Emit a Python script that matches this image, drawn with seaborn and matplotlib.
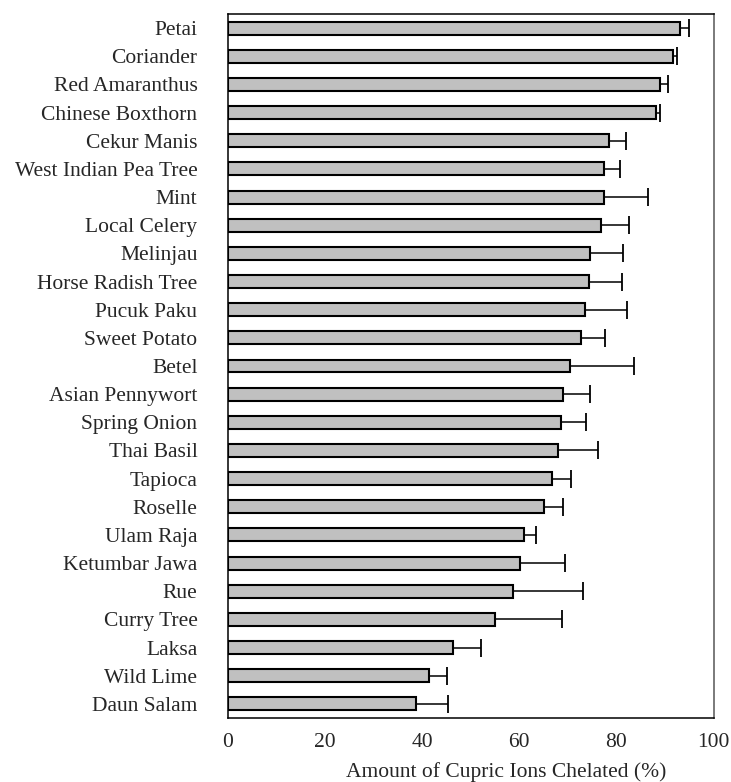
import numpy as np
import pandas as pd
import matplotlib
matplotlib.use("Agg")
import matplotlib.pyplot as plt
import seaborn as sns

plants = ["Petai", "Coriander", "Red Amaranthus", "Chinese Boxthorn", "Cekur Manis",
          "West Indian Pea Tree", "Mint", "Local Celery", "Melinjau", "Horse Radish Tree",
          "Pucuk Paku", "Sweet Potato", "Betel", "Asian Pennywort", "Spring Onion",
          "Thai Basil", "Tapioca", "Roselle", "Ulam Raja", "Ketumbar Jawa", "Rue",
          "Curry Tree", "Laksa", "Wild Lime", "Daun Salam"]
chelated = [93.2, 91.7, 89.0, 88.1, 78.5, 77.4, 77.4, 76.8, 74.6, 74.3,
            73.6, 72.7, 70.4, 68.9, 68.6, 68.0, 66.7, 65.0, 60.9, 60.2,
            58.8, 55.0, 46.4, 41.3, 38.8]
error = [1.8, 0.7, 1.6, 0.8, 3.5, 3.3, 9.1, 5.7, 6.8, 6.8,
         8.6, 5.0, 13.3, 5.7, 5.2, 8.3, 4.0, 4.0, 2.6, 9.3,
         14.3, 13.8, 5.7, 3.9, 6.6]

df = pd.DataFrame({"Plant": plants, "Chelated": chelated, "Err": error})

sns.set_style("white")
plt.rcParams["font.family"] = ["Liberation Serif", "DejaVu Serif"]
fs = 15.5

fig = plt.figure(figsize=(7.31, 7.82), dpi=100)
ax = fig.add_axes([228 / 731, 1 - 718 / 782, (713.5 - 228) / 731, (718 - 14) / 782])

sns.barplot(data=df, x="Chelated", y="Plant", orient="h", color="#c0c0c0",
            edgecolor="black", linewidth=1.5, width=0.46, saturation=1, ax=ax)
# one-sided error bars, cap only at the far end
eb = ax.errorbar(df["Chelated"], np.arange(len(df)), xerr=[np.zeros(len(df)), df["Err"]],
                 fmt="none", ecolor="black", elinewidth=1.1, capsize=6.5, capthick=1.3)
eb[1][0].set_visible(False)

ax.set_xlim(0, 100)
ax.set_ylim(len(df) - 0.5, -0.5)
ax.set_xticks(range(0, 101, 20))
ax.set_xlabel("Amount of Cupric Ions Chelated (%)", fontsize=fs)
ax.xaxis.set_label_coords(0.573, -0.063)
ax.set_ylabel("")
ax.tick_params(axis="x", direction="out", length=4.5, width=1, labelsize=fs, pad=6)
ax.tick_params(axis="y", which="major", length=0, labelsize=fs, pad=22)
ax.set_yticks(np.arange(-0.5, len(df)), minor=True)
ax.tick_params(axis="y", which="minor", direction="out", length=4.5, width=1)

for side in ["left", "bottom", "top"]:
    ax.spines[side].set_color("black")
    ax.spines[side].set_linewidth(1.1)
ax.spines["right"].set_color("#707070")
ax.spines["right"].set_linewidth(1.3)

plt.savefig("out.png", dpi=100)
